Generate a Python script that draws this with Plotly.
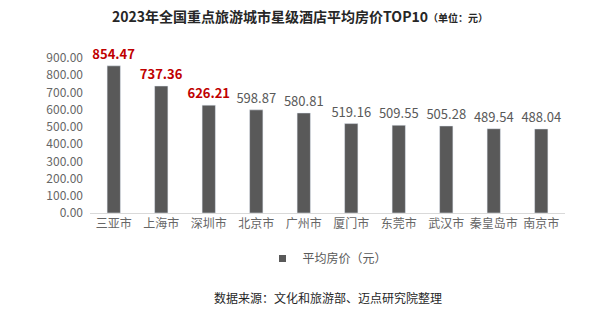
import plotly.graph_objects as go

cities = ["三亚市", "上海市", "深圳市", "北京市", "广州市", "厦门市", "东莞市", "武汉市", "秦皇岛市", "南京市"]
prices = [854.47, 737.36, 626.21, 598.87, 580.81, 519.16, 509.55, 505.28, 489.54, 488.04]
highlight = [True, True, True, False, False, False, False, False, False, False]
yticks = [0, 100, 200, 300, 400, 500, 600, 700, 800, 900]

FONT = "Noto Sans CJK SC"
labels = [f"<b>{v:.2f}</b>" if h else f"{v:.2f}" for v, h in zip(prices, highlight)]
label_colors = ["#C00000" if h else "#595959" for h in highlight]

fig = go.Figure()
fig.add_trace(go.Bar(
    x=cities, y=prices, name="平均房价（元）", showlegend=False,
    marker=dict(color="#595959"),
    text=labels, textposition="outside", cliponaxis=False, constraintext="none",
    textfont=dict(family=FONT, size=13, color=label_colors),
    width=0.28,
))
fig.add_trace(go.Scatter(
    x=[None], y=[None], mode="markers", name="平均房价（元）",
    marker=dict(symbol="square", size=7, color="#595959"),
))
fig.update_layout(
    width=600, height=311,
    margin=dict(l=90, r=35, t=58, b=98),
    paper_bgcolor="white", plot_bgcolor="white",
    font=dict(family=FONT, color="#595959"),
    title=dict(
        text="<b>2023年全国重点旅游城市星级酒店平均房价TOP10</b><span style='font-size:10px'><b>（单位：元）</b></span>",
        x=0.5, xanchor="center", y=0.945, yanchor="middle",
        font=dict(family=FONT, size=14, color="#262626"),
    ),
    showlegend=True,
    legend=dict(orientation="h", x=0.5, xanchor="center", y=-0.2, yanchor="top",
                itemwidth=30, font=dict(family=FONT, size=12, color="#595959")),
    xaxis=dict(showline=True, linecolor="#D9D9D9", linewidth=1, ticks="",
               tickfont=dict(family=FONT, size=12, color="#666666"), showgrid=False),
    yaxis=dict(range=[0, 900], tickvals=yticks, ticktext=[f"{v:.2f}" for v in yticks],
               showgrid=False, zeroline=False, showline=False,
               tickfont=dict(family=FONT, size=12, color="#666666"), ticklabelstandoff=6),
    annotations=[dict(text="数据来源：文化和旅游部、迈点研究院整理", x=0.5, xref="paper",
                      y=(213 - 297) / 155, yref="paper", yanchor="middle", showarrow=False,
                      font=dict(family=FONT, size=12, color="#262626"))],
)
fig.write_html("out.html")
